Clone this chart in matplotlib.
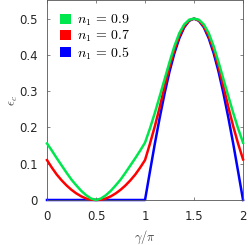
import matplotlib
matplotlib.use("Agg")
import matplotlib.pyplot as plt
from matplotlib.patches import Patch

plt.rcParams['mathtext.fontset'] = 'cm'
plt.rcParams['font.family'] = ['DejaVu Sans']

# gamma/pi sample positions
gamma = [0.00, 0.05, 0.10, 0.15, 0.20, 0.25, 0.30, 0.35, 0.40, 0.45, 0.50,
         0.55, 0.60, 0.65, 0.70, 0.75, 0.80, 0.85, 0.90, 0.95, 1.00,
         1.05, 1.10, 1.15, 1.20, 1.25, 1.30, 1.35, 1.40, 1.45, 1.50,
         1.55, 1.60, 1.65, 1.70, 1.75, 1.80, 1.85, 1.90, 1.95, 2.00]

eps_09 = [0.156, 0.136, 0.115, 0.095, 0.075, 0.056, 0.040, 0.025, 0.013, 0.004, 0.000,
          0.004, 0.013, 0.025, 0.040, 0.056, 0.075, 0.095, 0.115, 0.136, 0.158,
          0.197, 0.240, 0.286, 0.333, 0.380, 0.424, 0.460, 0.484, 0.497, 0.500,
          0.497, 0.484, 0.460, 0.424, 0.380, 0.333, 0.286, 0.240, 0.197, 0.158]

eps_07 = [0.110, 0.089, 0.070, 0.054, 0.040, 0.028, 0.018, 0.010, 0.004, 0.001, 0.000,
          0.001, 0.004, 0.010, 0.018, 0.028, 0.040, 0.054, 0.070, 0.089, 0.110,
          0.155, 0.203, 0.256, 0.313, 0.367, 0.414, 0.452, 0.479, 0.495, 0.500,
          0.495, 0.479, 0.452, 0.414, 0.367, 0.313, 0.256, 0.203, 0.155, 0.112]

eps_05 = [0.000, 0.000, 0.000, 0.000, 0.000, 0.000, 0.000, 0.000, 0.000, 0.000, 0.000,
          0.000, 0.000, 0.000, 0.000, 0.000, 0.000, 0.000, 0.000, 0.000, 0.000,
          0.078, 0.155, 0.227, 0.294, 0.354, 0.405, 0.446, 0.476, 0.494, 0.500,
          0.494, 0.476, 0.446, 0.405, 0.354, 0.294, 0.227, 0.155, 0.078, 0.000]

labels = [r'$n_1\,=\,0.9$', r'$n_1\,=\,0.7$', r'$n_1\,=\,0.5$']
colors = ['#00e64d', '#ff0000', '#0000ff']

xticks = [0, 0.5, 1, 1.5, 2]
xticklabels = ['0', '0.5', '1', '1.5', '2']
yticks = [0, 0.1, 0.2, 0.3, 0.4, 0.5]
yticklabels = ['0', '0.1', '0.2', '0.3', '0.4', '0.5']

fig = plt.figure(figsize=(2.48, 2.45), dpi=100)
ax = fig.add_axes([0.1895, 0.1837, 0.7905, 0.8143])

ax.plot(gamma, eps_05, color=colors[2], lw=1.8, clip_on=False, zorder=2,
        solid_joinstyle='round')
ax.plot(gamma, eps_07, color=colors[1], lw=1.8, clip_on=False, zorder=3,
        solid_joinstyle='round')
ax.plot(gamma, eps_09, color=colors[0], lw=1.8, clip_on=False, zorder=4,
        solid_joinstyle='round')

ax.set_xlim(0, 2)
ax.set_ylim(0, 0.55)
ax.set_xticks(xticks)
ax.set_xticklabels(xticklabels)
ax.set_yticks(yticks)
ax.set_yticklabels(yticklabels)
ax.tick_params(direction='in', top=True, right=True, length=2.5, width=0.5,
               colors='#555555', labelcolor='#262626', labelsize=8.5)
ax.tick_params(axis='x', pad=7.5)
ax.tick_params(axis='y', pad=6.5)
for s in ax.spines.values():
    s.set_linewidth(0.6)
    s.set_color('#555555')

ax.set_xlabel(r'$\gamma/\pi$', fontsize=9, color='#404040', labelpad=4)
ax.set_ylabel(r'$\epsilon_c$', fontsize=9, color='#404040', labelpad=-0.5)

handles = [Patch(facecolor=c, edgecolor='none') for c in colors]
leg = ax.legend(handles, labels, loc='upper left', frameon=False, fontsize=10,
                handlelength=0.75, handleheight=0.75, handletextpad=0.45,
                labelspacing=0.05, borderaxespad=0.0,
                bbox_to_anchor=(0.04, 0.965))

fig.savefig('out.png', dpi=100)
